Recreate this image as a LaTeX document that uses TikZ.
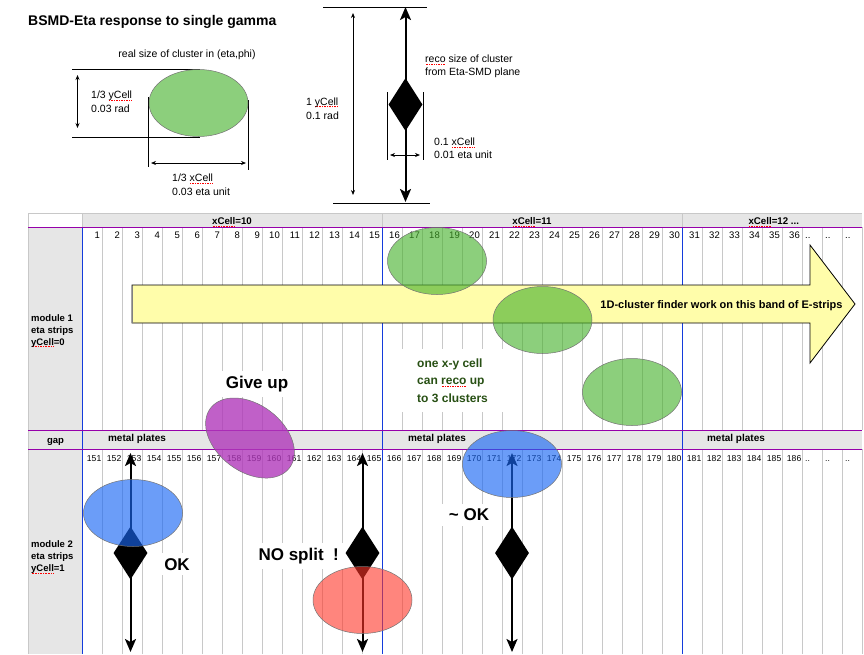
\documentclass[tikz,border=0pt]{standalone}
\usepackage{fontspec}
\setmainfont{Liberation Sans}
\usetikzlibrary{arrows.meta,shapes.geometric}

\definecolor{cellgray}{RGB}{230,230,230}
\definecolor{gridgray}{RGB}{200,200,200}
\definecolor{sepblue}{RGB}{20,60,220}
\definecolor{seppurple}{RGB}{150,0,170}
\definecolor{bandyellow}{RGB}{255,253,170}
\definecolor{clgreen}{RGB}{70,177,43}
\definecolor{clblue}{RGB}{24,102,244}
\definecolor{clred}{RGB}{255,52,39}
\definecolor{clpurple}{RGB}{176,56,186}
\definecolor{txtgreen}{RGB}{40,80,20}

\newcommand\fsz[1]{\fontsize{#1}{#1}\selectfont}
\newsavebox\spellbox
\newcommand\spellmark[1]{\sbox\spellbox{#1}\rlap{\color{red}\raisebox{-2pt}{\hbox to \wd\spellbox{\xleaders\hbox to 1.6pt{\hss\rule{0.9pt}{0.9pt}\hss}\hfill}}}\usebox\spellbox}

\tikzset{>=Stealth,
  plain/.style={inner sep=0pt,font=\fsz{10.5}},
  hdr/.style={inner sep=0pt,font=\bfseries\fsz{9.7}},
  num/.style={inner sep=0pt,font=\fsz{9.5}},
  numb/.style={inner sep=0pt,font=\fsz{8.6}},
  rowlbl/.style={inner sep=0pt,anchor=base west,font=\bfseries\fsz{9.5}},
  tag/.style={fill=white,inner xsep=8pt,inner ysep=5pt,anchor=base,font=\bfseries\fsz{17}},
  gridln/.style={draw=gridgray,line width=0.8pt},
  clu/.style={ellipse,draw=black!55,line width=0.5pt,minimum width=99pt,minimum height=67pt,inner sep=0pt,fill opacity=0.62},
  dmd/.style={diamond,fill=black,minimum width=34pt,minimum height=53pt,inner sep=0pt},
  thickarr/.style={line width=2pt,{Stealth[length=13pt,width=11pt,inset=3pt]}-{Stealth[length=13pt,width=11pt,inset=3pt]}},
  thinarr/.style={line width=0.7pt,{Stealth[length=5pt,width=4pt]}-{Stealth[length=5pt,width=4pt]}}
}

\begin{document}
\begin{tikzpicture}[x=1pt,y=-1pt]
\useasboundingbox (0,0) rectangle (864,654);

% top: real and reco cluster size
\node[anchor=base west,inner sep=0pt,font=\bfseries\fsz{14}] (title) at (28,25) {BSMD-Eta response to single gamma};
\node[plain,anchor=base] (realtxt) at (187,57.5) {real size of cluster in (eta,phi)};
\draw[line width=0.7pt] (72,69.3) -- (200,69.3) (72,137) -- (200,137);
\draw[line width=0.7pt] (148.5,97) -- (148.5,167) (248,100) -- (248,170);
\coordinate (ya1) at (77.5,75); \coordinate (ya2) at (77.5,128);
\coordinate (xa1) at (151,163); \coordinate (xa2) at (246,163);
\draw[thinarr] (ya1) -- (ya2);
\draw[thinarr] (xa1) -- (xa2);
\node[plain,anchor=base west] (ysz1) at (91,98.7) {1/3 \spellmark{yCell}};
\node[plain,anchor=base west] (ysz2) at (91,112) {0.03 rad};
\node[plain,anchor=base west] (xsz1) at (172,181.7) {1/3 \spellmark{xCell}};
\node[plain,anchor=base west] (xsz2) at (172,195.7) {0.03 eta unit};
\node[clu,fill=clgreen] (g0) at (198.5,103) {};

\draw[line width=0.7pt] (323,7) -- (427,7) (333,203) -- (430,203);
\draw[line width=0.7pt] (387,92) -- (387,160) (423,92) -- (423,160);
\coordinate (yb1) at (353,13); \coordinate (yb2) at (353,195);
\coordinate (xb1) at (390,155); \coordinate (xb2) at (420,155);
\coordinate (tb1) at (405.5,7); \coordinate (tb2) at (405.5,202);
\draw[thinarr] (yb1) -- (yb2);
\draw[thinarr] (xb1) -- (xb2);
\draw[thickarr] (tb1) -- (tb2);
\node[dmd] (d0) at (405.5,104.5) {};
\node[plain,anchor=base west] (reco1) at (425,62.7) {\spellmark{reco} size of cluster};
\node[plain,anchor=base west] (reco2) at (425,75.3) {from Eta-SMD plane};
\node[plain,anchor=base west] (ycl1) at (306,105.3) {1 \spellmark{yCell}};
\node[plain,anchor=base west] (ycl2) at (306,119.3) {0.1 rad};
\node[plain,anchor=base west] (xcl1) at (434,145.7) {0.1 \spellmark{xCell}};
\node[plain,anchor=base west] (xcl2) at (434,158.7) {0.01 eta unit};

% strip table
\fill[cellgray] (82,213) rectangle (862,227);
\fill[cellgray] (28,227) rectangle (82,654);
\fill[cellgray] (82,430) rectangle (862,449);
\draw[gridln] (28,213) -- (862,213) (28,213) -- (28,654);
\draw[gridln] (82,213) -- (82,227) (382,213) -- (382,227) (682,213) -- (682,227);
\foreach \i in {1,...,39}
  \draw[gridln] (82+20*\i,227) -- (82+20*\i,430) (82+20*\i,449) -- (82+20*\i,654);
\foreach \x in {82,382,682}
  \draw[sepblue,line width=1pt] (\x,227) -- (\x,654);
\draw[seppurple,line width=1pt] (28,227) -- (862,227) (28,430) -- (862,430) (28,449) -- (862,449);

\node[hdr,anchor=base] (hx10) at (232,224.7) {\spellmark{xCell}=10};
\node[hdr,anchor=base] (hx11) at (532,224.7) {\spellmark{xCell}=11};
\node[hdr,anchor=base] (hx12) at (773.8,224.7) {\spellmark{xCell}=12 ...};
\foreach \i in {1,...,36}
  \node[num,anchor=base east] (na\i) at (80+20*\i,238.7) {\i};
\foreach \i [evaluate=\i as \k using int(150+\i)] in {1,...,36}
  \node[numb,anchor=base east] (nb\i) at (81.5+20*\i,461.3) {\k};
\foreach \i in {37,38,39}{
  \node[num,anchor=base west] (da\i) at (65+20*\i,238.7) {..};
  \node[numb,anchor=base west] (db\i) at (65+20*\i,461.3) {..};
}
\node[rowlbl] (m1a) at (31,321) {module 1};
\node[rowlbl] (m1b) at (31,333.3) {eta strips};
\node[rowlbl] (m1c) at (31,345) {\spellmark{yCell}=0};
\node[rowlbl] (m2a) at (31,547.5) {module 2};
\node[rowlbl] (m2b) at (31,559.8) {eta strips};
\node[rowlbl] (m2c) at (31,571.5) {\spellmark{yCell}=1};
\node[rowlbl,anchor=base] (gap) at (55.5,443) {gap};
\foreach \x [count=\j] in {137,437,736}
  \node[rowlbl,anchor=base,font=\bfseries\fsz{10}] (mp\j) at (\x,441.7) {metal plates};

% band of E-strips
\draw[line width=0.8pt,fill=bandyellow] (132,285) -- (810,285) -- (810,245) -- (855,304)
  -- (810,363) -- (810,323) -- (132,323) -- cycle;
\draw[black!50,line width=1.5pt] (132.5,285.5) -- (132.5,322.5);
\node[anchor=base,inner sep=0pt,font=\bfseries\fsz{11}] (band) at (721.5,308.3) {1D-cluster finder work on this band of E-strips};

% labels
\node[tag] (giveup) at (257,388.3) {Give up};
\node[tag] (ok1) at (177,570) {OK};
\node[tag] (nosplit) at (298.7,560.7) {NO split\ \ !};
\node[tag] (ok2) at (469,520.7) {\textasciitilde{} OK};
\node[fill=white,anchor=north west,align=left,inner xsep=15pt,inner ysep=9.5pt,
  text=txtgreen,font=\bfseries\fontsize{12}{17.5}\selectfont] (note) at (402,349)
  {one x-y cell\\can \spellmark{reco} up\\to 3 clusters};

% reco clusters in module 2
\foreach \x [count=\j] in {130.5,362.5,512}{
  \coordinate (up\j) at (\x,453);
  \coordinate (dn\j) at (\x,652);
  \draw[thickarr] (up\j) -- (dn\j);
  \node[dmd] (d\j) at (\x,553) {};
}

% real clusters
\node[clu,fill=clgreen] (g1) at (437,261) {};
\node[clu,fill=clgreen] (g2) at (542.5,320) {};
\node[clu,fill=clgreen] (g3) at (632,392) {};
\node[clu,fill=clpurple,fill opacity=0.8,rotate=-37] (pu) at (250,438) {};
\node[clu,fill=clblue,fill opacity=0.64] (b1) at (133,513) {};
\node[clu,fill=clblue,fill opacity=0.64] (b2) at (512,464) {};
\node[clu,fill=clred,fill opacity=0.6] (r1) at (362.5,600) {};
\end{tikzpicture}
\end{document}
